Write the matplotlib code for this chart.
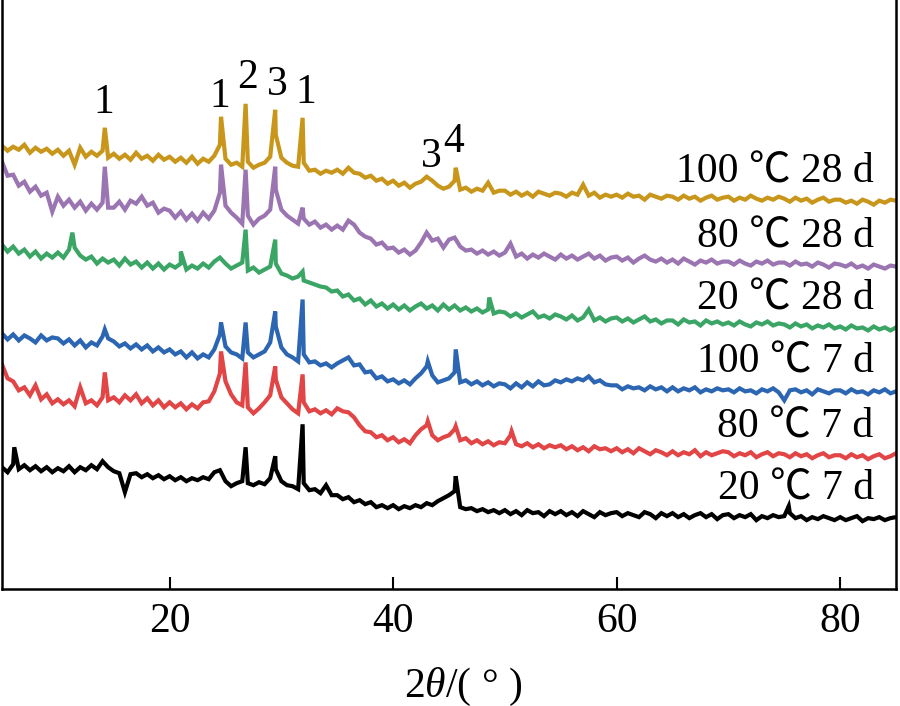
import matplotlib
matplotlib.use("Agg")
import matplotlib.pyplot as plt
import numpy as np

# 2theta grid (deg), 0.5 deg steps from 5 to 85
two_theta = np.arange(5, 85.25, 0.5)

# background intensities (a.u., relative to each trace's tail)
bg_100_28 = [57, 52, 56, 53, 58, 50, 55, 51, 54, 49,
             53, 47, 52, 38, 55, 46, 51, 47, 52, 45,
             49, 44, 48, 43, 50, 44, 47, 42, 48, 43,
             46, 41, 45, 40, 46, 39, 44, 41, 47, 58,
             44, 38, 40, 36, 41, 35, 38, 40, 46, 68,
             45, 40, 37, 36, 40, 32, 33, 29, 32, 30,
             33, 29, 35, 30, 29, 25, 27, 22, 24, 19,
             22, 17, 20, 15, 19, 21, 26, 22, 17, 14,
             16, 22, 13, 15, 11, 14, 12, 20, 10, 12,
             12, 8, 11, 7, 10, 6, 11, 9, 7, 10,
             9, 6, 10, 8, 18, 7, 10, 5, 8, 6,
             8, 5, 9, 6, 7, 3, 8, 6, 4, 7,
             6, 3, 7, 4, 6, 2, 5, 7, 3, 5,
             6, 2, 5, 3, 7, 4, 2, 5, 3, 6,
             4, 1, 5, 2, 4, 0, 3, 5, 1, 3,
             3, 0, 2, -1, 3, 1, -2, 2, 0, 3,
             2]
bg_80_28 = [106, 92, 93, 82, 86, 76, 81, 72, 75, 56,
            71, 62, 68, 60, 66, 57, 64, 58, 65, 60,
            60, 66, 58, 67, 64, 71, 62, 65, 55, 59,
            57, 50, 56, 48, 54, 47, 55, 49, 57, 75,
            62, 55, 50, 44, 52, 43, 49, 52, 58, 78,
            58, 52, 48, 44, 49, 43, 46, 40, 43, 38,
            42, 38, 47, 43, 35, 31, 29, 23, 25, 19,
            20, 15, 18, 13, 17, 25, 35, 27, 29, 20,
            28, 30, 21, 17, 18, 14, 17, 13, 16, 12,
            15, 24, 11, 14, 9, 13, 10, 14, 11, 8,
            13, 9, 12, 8, 11, 14, 9, 12, 7, 10,
            11, 7, 10, 5, 9, 12, 8, 6, 9, 5,
            8, 4, 9, 6, 3, 7, 5, 8, 4, 6,
            6, 3, 7, 4, 2, 6, 4, 7, 3, 5,
            5, 2, 6, 3, 4, 1, 5, 3, 0, 4,
            3, 1, 4, 0, 2, -1, 3, 1, -1, 2,
            1]
bg_20_28 = [85, 78, 83, 76, 80, 73, 78, 71, 76, 72,
            77, 72, 80, 82, 74, 70, 73, 66, 71, 67,
            70, 64, 71, 65, 68, 62, 67, 61, 66, 60,
            65, 62, 66, 60, 64, 61, 66, 62, 68, 72,
            66, 61, 64, 67, 59, 62, 57, 60, 63, 66,
            56, 54, 51, 53, 49, 47, 45, 43, 42, 38,
            39, 33, 35, 29, 31, 25, 29, 23, 26, 21,
            25, 20, 24, 19, 23, 26, 21, 24, 19, 25,
            20, 24, 19, 22, 18, 21, 17, 20, 16, 18,
            17, 13, 16, 12, 15, 18, 12, 14, 11, 15,
            13, 10, 14, 9, 12, 20, 9, 12, 8, 11,
            12, 8, 11, 7, 10, 13, 8, 10, 6, 9,
            9, 5, 10, 7, 8, 4, 9, 6, 8, 5,
            7, 4, 8, 5, 3, 7, 5, 8, 4, 6,
            5, 2, 6, 3, 5, 1, 4, 2, 5, 1,
            3, 0, 4, 1, 2, -1, 3, 0, 2, -1,
            2]
bg_100_7 = [59, 53, 58, 52, 57, 54, 50, 57, 52, 55,
            54, 49, 53, 47, 52, 45, 50, 47, 56, 54,
            51, 46, 49, 44, 48, 43, 47, 41, 45, 40,
            43, 38, 41, 35, 40, 34, 38, 35, 43, 58,
            46, 40, 38, 34, 40, 35, 38, 41, 50, 66,
            45, 38, 35, 31, 38, 30, 31, 27, 29, 25,
            29, 32, 35, 27, 28, 20, 21, 14, 16, 11,
            13, 9, 12, 8, 14, 19, 26, 17, 10, 12,
            14, 20, 10, 12, 8, 11, 7, 10, 6, 9,
            8, 4, 9, 5, 10, 6, 11, 7, 8, 12,
            10, 13, 11, 14, 12, 16, 10, 12, 8, 7,
            7, 3, 6, 4, 5, 2, 6, 3, 5, 1,
            5, 1, 4, 2, 5, 0, 3, 1, 4, 2,
            3, 0, 4, 1, 2, -1, 3, 1, 4, 0,
            -8, 2, 3, 0, 2, -2, 3, 1, -1, 2,
            2, -1, 3, 0, 1, -2, 2, 0, 3, -1,
            1]
bg_80_7 = [93, 79, 76, 67, 70, 62, 72, 58, 63, 54,
           58, 53, 57, 51, 70, 54, 57, 52, 60, 57,
           60, 55, 62, 57, 63, 54, 59, 52, 57, 50,
           55, 50, 54, 48, 53, 49, 55, 56, 66, 84,
           76, 63, 55, 52, 50, 44, 49, 55, 62, 78,
           60, 54, 48, 44, 55, 46, 48, 44, 47, 43,
           49, 46, 45, 40, 32, 26, 25, 20, 22, 17,
           20, 15, 18, 14, 22, 28, 32, 22, 17, 20,
           22, 28, 17, 19, 14, 17, 13, 16, 12, 15,
           14, 22, 13, 11, 14, 10, 13, 9, 12, 10,
           12, 8, 11, 7, 10, 6, 11, 8, 9, 6,
           9, 5, 8, 4, 9, 6, 3, 7, 5, 2,
           6, 2, 5, 3, 7, 1, 5, 2, 4, 6,
           5, 1, 4, 2, 5, 0, 3, 5, 1, 4,
           3, 0, 4, 1, 3, -1, 2, 4, 0, 2,
           2, -1, 3, 0, 2, -2, 1, 3, -1, 1,
           4]
bg_20_7 = [52, 47, 55, 50, 54, 49, 53, 48, 52, 47,
           51, 48, 53, 47, 52, 49, 54, 50, 58, 52,
           48, 46, 27, 45, 46, 42, 45, 41, 44, 40,
           43, 39, 42, 38, 41, 39, 42, 40, 47, 49,
           38, 33, 36, 38, 36, 34, 37, 35, 41, 50,
           38, 34, 33, 30, 36, 29, 30, 26, 34, 24,
           24, 20, 22, 17, 19, 15, 17, 12, 14, 11,
           14, 10, 13, 11, 14, 12, 16, 14, 18, 21,
           24, 28, 12, 10, 11, 8, 10, 7, 9, 6,
           9, 5, 8, 4, 9, 6, 7, 3, 8, 5,
           8, 4, 7, 3, 8, 5, 2, 7, 4, 6,
           7, 3, 6, 4, 2, 7, 5, 1, 6, 3,
           6, 2, 5, 1, 4, 6, 2, 5, 0, 4,
           5, 1, 4, 2, 5, -1, 3, 1, 4, 2,
           3, 6, 1, 3, -1, 2, 0, 3, 1, -1,
           2, -1, 1, 3, -2, 1, 0, 2, -1, 1,
           2]

# sharp reflections (2theta, peak top)
pk_100_28 = [(14.2, 75), (24.6, 86), (26.8, 99), (29.45, 93), (31.9, 85), (45.6, 35)]
pk_80_28 = [(14.2, 101), (24.6, 103), (26.8, 98), (29.45, 101), (31.9, 60)]
pk_20_28 = [(11.3, 97), (21.0, 78), (26.8, 100), (29.45, 90), (31.9, 58), (48.6, 32)]
pk_100_7 = [(14.2, 63), (24.6, 70), (26.8, 70), (29.45, 81), (31.9, 93), (43.1, 31), (45.6, 43)]
pk_80_7 = [(14.2, 85), (24.6, 106), (26.8, 95), (29.45, 91), (31.9, 83), (43.1, 36), (45.6, 31), (50.6, 26)]
pk_20_7 = [(6.1, 72), (26.8, 72), (29.45, 63), (31.9, 95), (45.6, 43), (75.4, 13)]

labels = ["100 ℃ 28 d", "80 ℃ 28 d", "20 ℃ 28 d", "100 ℃ 7 d", "80 ℃ 7 d", "20 ℃ 7 d"]
backgrounds = [bg_100_28, bg_80_28, bg_20_28, bg_100_7, bg_80_7, bg_20_7]
peaks = [pk_100_28, pk_80_28, pk_20_28, pk_100_7, pk_80_7, pk_20_7]
offsets = [387, 322, 260, 197, 132, 70]
colors = ["#C8961A", "#9B74B2", "#3BA566", "#2C66B2", "#E24545", "#000000"]

# phase markers above the top pattern
mark_x = [14.1, 24.5, 27.0, 29.6, 32.2, 43.4, 45.4]
mark_y = [477, 483, 502, 495, 487, 423, 438]
mark_txt = ["1", "1", "2", "3", "1", "3", "4"]

plt.rcParams['font.family'] = ['Liberation Serif', 'Noto Sans CJK SC']
plt.rcParams['mathtext.fontset'] = 'custom'
plt.rcParams['mathtext.rm'] = 'Liberation Serif'
plt.rcParams['mathtext.it'] = 'Liberation Serif:italic'

fig = plt.figure(figsize=(9, 7.06), dpi=100)
ax = fig.add_axes([0.0022, 0.1657, 0.9934, 0.8343])


def merge(bg, pk):
    assert len(bg) == len(two_theta)
    xs = np.concatenate([two_theta, [p[0] for p in pk]])
    ys = np.concatenate([np.array(bg, float), [p[1] for p in pk]])
    order = np.argsort(xs, kind='stable')
    return xs[order], ys[order]


for bg, pk, off, c, lab in zip(backgrounds, peaks, offsets, colors, labels):
    xs, ys = merge(bg, pk)
    ax.plot(xs, ys + off, color=c, lw=3.0, solid_joinstyle='miter')
    ax.text(83, off + 20, lab, ha='right', va='baseline', fontsize=30)

for mx, my, t in zip(mark_x, mark_y, mark_txt):
    ax.text(mx, my, t, ha='center', va='baseline', fontsize=30)

ax.set_xlim(5, 85)
ax.set_ylim(0, 590)
ax.set_xticks([20, 40, 60, 80])
ax.set_yticks([])
ax.tick_params(axis='x', direction='in', length=9, width=1.5, labelsize=30, pad=10)
ax.spines['top'].set_visible(False)
for s in ['left', 'right', 'bottom']:
    ax.spines[s].set_linewidth(1.8)

ax.set_xlabel(r"2$\it{\theta}$/( ° )", fontsize=30, labelpad=6)
ax.xaxis.set_label_coords(0.516, -0.13)

fig.savefig("out.png", dpi=100)
